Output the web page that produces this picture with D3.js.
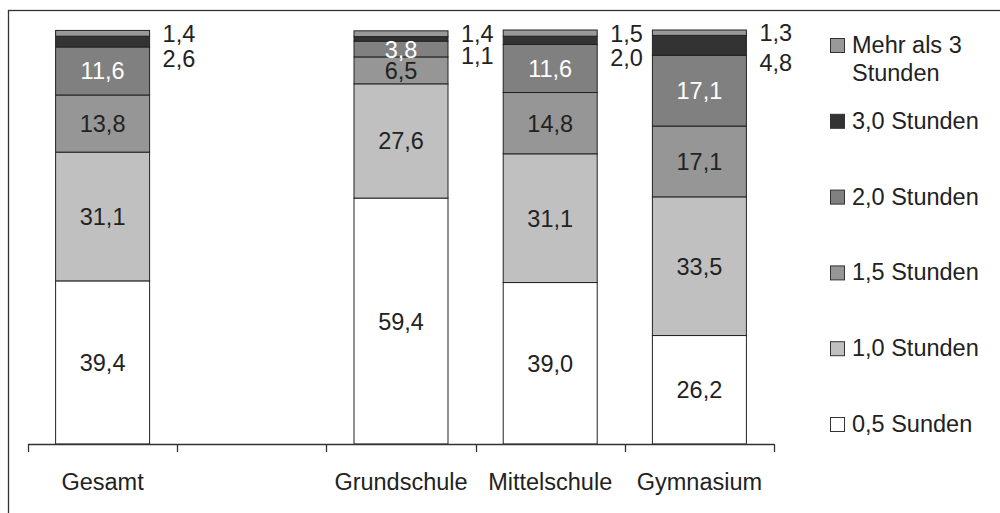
<!DOCTYPE html>
<html>
<head>
<meta charset="utf-8">
<script src="https://cdn.jsdelivr.net/npm/d3@7"></script>
<style>
  html, body { margin: 0; padding: 0; background: #fff; }
  svg { display: block; }
  text { font-family: "Liberation Sans", Arial, sans-serif; }
</style>
</head>
<body>
<svg id="chart" width="1000" height="513"></svg>
<script>
// ---- data ----
const categories = ["Gesamt", "", "Grundschule", "Mittelschule", "Gymnasium"];
const seriesNames = ["0,5 Sunden", "1,0 Stunden", "1,5 Stunden", "2,0 Stunden", "3,0 Stunden", "Mehr als 3 Stunden"];
const legendLines = [["0,5 Sunden"], ["1,0 Stunden"], ["1,5 Stunden"], ["2,0 Stunden"], ["3,0 Stunden"], ["Mehr als 3", "Stunden"]];
const seriesColors = ["#ffffff", "#c0c0c0", "#969696", "#808080", "#333333", "#999999"];
const labelColors = ["#222", "#222", "#222", "#ffffff", "#222", "#222"];
const v05 = [39.4, null, 59.4, 39.0, 26.2];
const v10 = [31.1, null, 27.6, 31.1, 33.5];
const v15 = [13.8, null, 6.5, 14.8, 17.1];
const v20 = [11.6, null, 3.8, 11.6, 17.1];
const v30 = [2.6, null, 1.1, 2.0, 4.8];
const vMehr = [1.4, null, 1.4, 1.5, 1.3];
const yTicks = [0, 100];

const seriesValues = [v05, v10, v15, v20, v30, vMehr];

const svg = d3.select("#chart");
const FS = 23.5;

// frame
svg.append("rect").attr("x", 8.5).attr("y", 10.5).attr("width", 1100).attr("height", 600)
  .attr("fill", "none").attr("stroke", "#333").attr("stroke-width", 1.3);

const x = d3.scaleBand().domain(d3.range(categories.length)).range([28, 774])
  .paddingInner(0.37).paddingOuter(0.185);
const y = d3.scaleLinear().domain(yTicks).range([444, 30]);

const rows = categories.map((c, i) => {
  const r = { idx: i };
  seriesNames.forEach((s, k) => r[s] = seriesValues[k][i] || 0);
  return r;
});
const stack = d3.stack().keys(seriesNames)(rows);

const fmt = v => d3.format(".1f")(v).replace(".", ",");

stack.forEach((layer, k) => {
  const g = svg.append("g");
  layer.forEach((d, i) => {
    if (seriesValues[k][i] == null) return;
    g.append("rect")
      .attr("x", x(i)).attr("width", x.bandwidth())
      .attr("y", y(d[1])).attr("height", y(d[0]) - y(d[1]))
      .attr("fill", seriesColors[k]).attr("stroke", "#222").attr("stroke-width", 1);
  });
});

// labels
stack.forEach((layer, k) => {
  layer.forEach((d, i) => {
    const v = seriesValues[k][i];
    if (v == null) return;
    const cy = y((d[0] + d[1]) / 2);
    if (k <= 3) {
      svg.append("text")
        .attr("x", x(i) + x.bandwidth() / 2).attr("y", cy)
        .attr("dy", "0.36em").attr("text-anchor", "middle")
        .attr("font-size", FS).attr("fill", labelColors[k]).text(fmt(v));
    } else {
      const off = k === 5 ? 0 : 17;
      svg.append("text")
        .attr("x", x(i) + x.bandwidth() + 13).attr("y", cy + off)
        .attr("dy", "0.36em").attr("text-anchor", "start")
        .attr("font-size", FS).attr("fill", "#222").text(fmt(v));
    }
  });
});

// x axis
const ax = svg.append("g");
const step = x.step();
const x0 = x(0) - step * x.paddingInner() / 2;
ax.append("line").attr("x1", x0).attr("x2", x0 + step * categories.length)
  .attr("y1", 444.5).attr("y2", 444.5).attr("stroke", "#333").attr("stroke-width", 1.3);
d3.range(categories.length + 1).forEach(j => {
  const tx = Math.round(x0 + j * step) + 0.5;
  ax.append("line").attr("x1", tx).attr("x2", tx).attr("y1", 444).attr("y2", 452)
    .attr("stroke", "#333").attr("stroke-width", 1.3);
});
categories.forEach((c, i) => {
  ax.append("text").attr("x", x(i) + x.bandwidth() / 2).attr("y", 490)
    .attr("text-anchor", "middle").attr("font-size", FS).attr("fill", "#222").text(c);
});

// legend (top to bottom: reverse series order)
const lg = svg.append("g");
const order = d3.range(seriesNames.length).reverse();
order.forEach((k, j) => {
  const top = 38 + j * 75.8;
  lg.append("rect").attr("x", 830.5).attr("y", top + 0.5).attr("width", 14).attr("height", 14)
    .attr("fill", seriesColors[k]).attr("stroke", "#333").attr("stroke-width", 1);
  legendLines[k].forEach((ln, li) => {
    lg.append("text").attr("x", 852).attr("y", top + 15 + li * 28)
      .attr("font-size", FS).attr("fill", "#222").text(ln);
  });
});
</script>
</body>
</html>
